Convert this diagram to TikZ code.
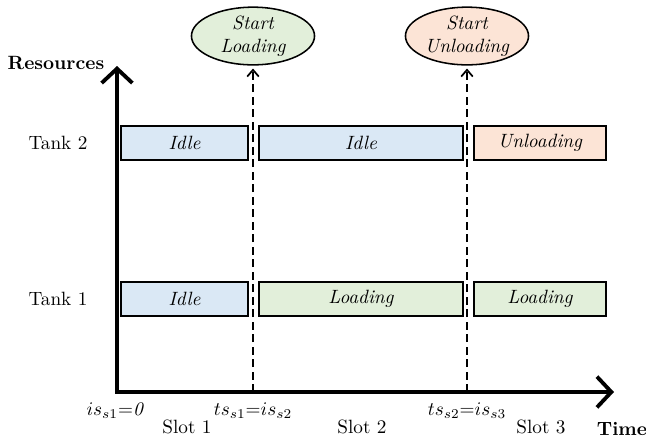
\documentclass[tikz,border=0pt]{standalone}
\usetikzlibrary{arrows.meta,shapes.geometric}
\definecolor{idleblue}{HTML}{DAE8F5}
\definecolor{loadgreen}{HTML}{E2EFDA}
\definecolor{unloadorange}{HTML}{FCE4D6}
\begin{document}
\begin{tikzpicture}[x=0.52pt,y=-0.52pt,
  task/.style={draw=black,line width=1.1pt,minimum height=17.6pt,inner sep=0pt,font=\itshape,anchor=center},
  event/.style={ellipse,draw=black,line width=0.8pt,minimum width=64pt,minimum height=30pt,inner sep=0pt,align=center,font=\itshape},
  axis/.style={line width=2pt,-{Straight Barb[length=7.5pt,width=16pt,line width=2pt]}},
  evarrow/.style={line width=0.9pt,dash pattern=on 4pt off 2.5pt,-{Straight Barb[length=3.5pt,width=6pt,line width=0.9pt]}},
  lab/.style={inner sep=0pt}]
\useasboundingbox (0,0) rectangle (646,441);
% axes
\coordinate (origin) at (117,392);
\coordinate (ytip) at (117,66);
\coordinate (xtip) at (614,392);
\draw[axis] (origin) -- (ytip);
\draw[axis] ([xshift=-1pt]origin) -- (xtip);
% events
\node[event,fill=loadgreen] (e1) at (253,36) {Start\\Loading};
\node[event,fill=unloadorange] (e2) at (467,36) {Start\\Unloading};
\coordinate (d1) at (253,392);
\coordinate (d2) at (467,392);
\draw[evarrow] (d1) -- ([yshift=-1.5pt]e1.south);
\draw[evarrow] (d2) -- ([yshift=-1.5pt]e2.south);
% tank 2
\node[task,fill=idleblue,minimum width=127*0.52pt] (t2a) at (184.5,143) {Idle};
\node[task,fill=idleblue,minimum width=204*0.52pt] (t2b) at (361,143) {Idle};
\node[task,fill=unloadorange,minimum width=132*0.52pt] (t2c) at (540,143) {Unloading};
% tank 1
\node[task,fill=idleblue,minimum width=127*0.52pt] (t1a) at (184.5,299) {Idle};
\node[task,fill=loadgreen,minimum width=204*0.52pt] (t1b) at (361,299) {Loading};
\node[task,fill=loadgreen,minimum width=132*0.52pt] (t1c) at (540,299) {Loading};
% labels
\node[lab,font=\bfseries] (res) at (56,63) {Resources};
\node[lab] (tk2) at (58,143) {Tank 2};
\node[lab] (tk1) at (58,299) {Tank 1};
\node[lab,font=\bfseries] (time) at (622,429) {Time};
\node[lab] (is1) at (116,411) {$is_{s1}{=}\mathit{0}$};
\node[lab] (ts1) at (253,411) {$ts_{s1}{=}is_{s2}$};
\node[lab] (ts2) at (467,411) {$ts_{s2}{=}is_{s3}$};
\node[lab] (sl1) at (187,427) {Slot 1};
\node[lab] (sl2) at (362,427) {Slot 2};
\node[lab] (sl3) at (541,427) {Slot 3};
\end{tikzpicture}
\end{document}
